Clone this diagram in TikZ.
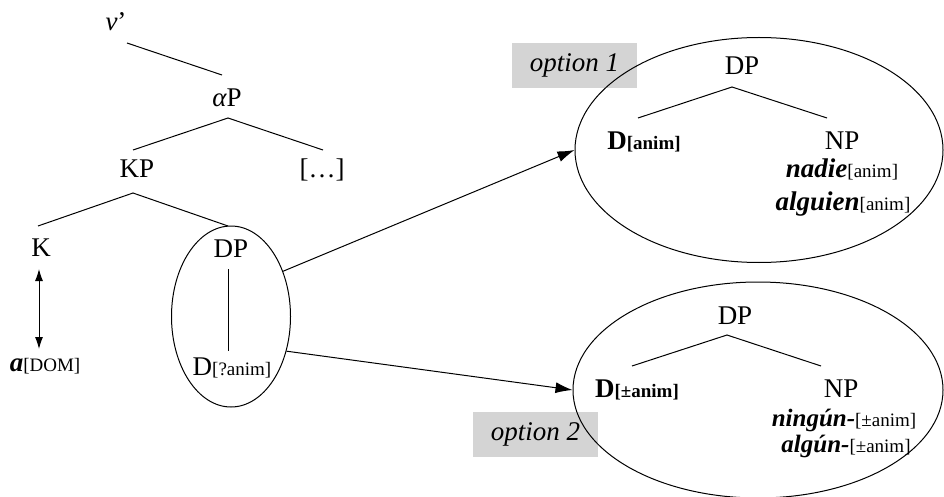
\documentclass[tikz,border=0pt]{standalone}
\usepackage{fontspec}
\setmainfont{Liberation Serif}
\usetikzlibrary{arrows.meta,shapes.geometric}

% feature bundles and lexical items
\newcommand{\feat}[1]{{\fontsize{19}{22}\selectfont[#1]}}
\newcommand{\featb}[1]{{\fontsize{19}{22}\selectfont\bfseries[#1]}}
\newcommand{\word}[1]{{\fontsize{27}{30}\selectfont\bfseries\itshape #1}}

\begin{document}
\begin{tikzpicture}[x=1pt,y=-1pt,
  lab/.style={anchor=base,inner sep=0pt,font=\fontsize{27}{30}\selectfont},
  branch/.style={line width=1pt},
  ring/.style={draw,ellipse,line width=1pt,inner sep=0pt},
  optbox/.style={fill=black!17,minimum width=125pt,minimum height=45pt,inner sep=0pt,
                 font=\fontsize{27}{30}\selectfont\itshape},
  link/.style={line width=1pt,-{Latex[length=17pt,width=11pt]}},
  twoway/.style={line width=1pt,{Latex[length=12pt,width=8pt]}-{Latex[length=12pt,width=8pt]}}]

\useasboundingbox (0,0) rectangle (944,497);

% ---- left tree ----
\node[lab] (vbar)   at (116,31)  {\textit{v}’};
\node[lab] (alphaP) at (227,107) {{\itshape α}P};
\node[lab] (KP)     at (137,178) {KP};
\node[lab] (dots)   at (322,178) {[…]};
\node[lab] (K)      at (41,256)  {K};
\node[lab] (DPa)    at (231,257) {DP};
\node[lab] (aDOM)   at (45,371)  {\word{a}\feat{DOM}};
\node[lab] (Dq)     at (232,375) {D\feat{?anim}};

\coordinate (vbar-b) at (127,43);
\coordinate (alphaP-t) at (222,75);
\coordinate (alphaP-b) at (228,118);
\coordinate (KP-t) at (133,150);
\coordinate (dots-t) at (323,150);
\coordinate (KP-b) at (133,193);
\coordinate (K-t) at (38,226);
\coordinate (DPa-t) at (228,226);
\coordinate (DPa-b) at (228,269);
\coordinate (Dq-t) at (228,351);
\coordinate (K-b) at (39,269);
\coordinate (aDOM-t) at (39,349);

\draw[branch] (vbar-b) -- (alphaP-t);
\draw[branch] (KP-t) -- (alphaP-b) -- (dots-t);
\draw[branch] (K-t) -- (KP-b) -- (DPa-t);
\draw[branch] (DPa-b) -- (Dq-t);
\draw[twoway] (K-b) -- (aDOM-t);

\node[ring,minimum width=119pt,minimum height=181pt] (dpell) at (231,316.5) {};

% ---- option 1 ----
\node[optbox] (opt1) at (574.5,65.5) {option 1};
\node[ring,minimum width=368pt,minimum height=225pt] (ell1) at (759,150) {};
\node[lab] (DP1) at (742,75) {DP};
\node[lab] (D1) at (644,150) {\textbf{D}\featb{anim}};
\node[lab] (NP1) at (842,150) {NP};
\node[lab] (nadie) at (842,178) {\word{nadie}\feat{anim}};
\node[lab] (alguien) at (843,210) {\word{alguien}\feat{anim}};
\coordinate (DP1-b) at (732,87);
\coordinate (D1-t) at (638,118);
\coordinate (NP1-t) at (827,118);
\draw[branch] (D1-t) -- (DP1-b) -- (NP1-t);

% ---- option 2 ----
\node[optbox] (opt2) at (535.5,434.5) {option 2};
\node[ring,minimum width=370pt,minimum height=216pt] (ell2) at (758,390) {};
\node[lab] (DP2) at (735,324) {DP};
\node[lab] (D2) at (637,397) {\textbf{D}\featb{±anim}};
\node[lab] (NP2) at (841,397) {NP};
\node[lab] (ningun) at (844,426) {{\fontsize{25}{28}\selectfont\bfseries\itshape ningún-}\feat{±anim}};
\node[lab] (algun) at (846,452) {{\fontsize{25}{28}\selectfont\bfseries\itshape algún-}\feat{±anim}};
\coordinate (DP2-b) at (727,335);
\coordinate (D2-t) at (632,366);
\coordinate (NP2-t) at (821,366);
\draw[branch] (D2-t) -- (DP2-b) -- (NP2-t);

% ---- links from the embedded DP ----
\draw[link] (dpell.41) -- (ell1.west);
\draw[link] (dpell.-32) -- (ell2.west);

\end{tikzpicture}
\end{document}
